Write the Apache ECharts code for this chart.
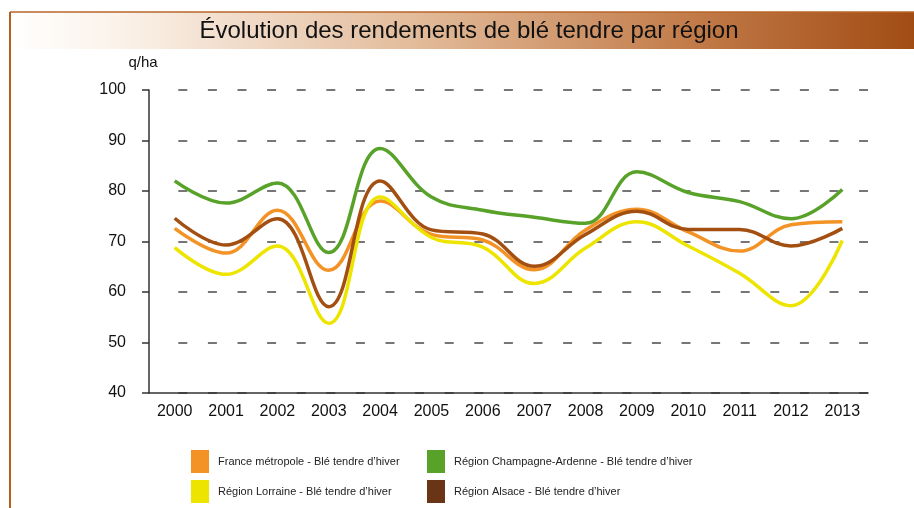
<!DOCTYPE html>
<html>
<head>
<meta charset="utf-8">
<script src="https://cdn.jsdelivr.net/npm/echarts@6/dist/echarts.min.js"></script>
<style>
  html, body { margin: 0; padding: 0; background: #fff; }
  #main { width: 914px; height: 508px; }
</style>
</head>
<body>
<div id="main"></div>
<script>
// années (axe x)
const years = ['2000', '2001', '2002', '2003', '2004', '2005', '2006', '2007', '2008', '2009', '2010', '2011', '2012', '2013']

// rendements en q/ha
const france = [72.6, 67.7, 76.2, 64.3, 78.0, 71.4, 70.3, 64.4, 72.3, 76.4, 71.9, 68.1, 73.3, 73.9]
const lorraine = [68.8, 63.5, 69.1, 53.8, 78.8, 70.8, 68.9, 61.7, 68.7, 73.9, 69.1, 63.7, 57.3, 70.2]
const champagne = [82.0, 77.6, 81.6, 67.8, 88.4, 78.8, 76.2, 74.8, 73.6, 83.8, 79.7, 77.9, 74.5, 80.3]
const alsace = [74.6, 69.3, 74.5, 57.1, 82.0, 72.3, 71.5, 65.1, 71.4, 76.0, 72.4, 72.4, 69.1, 72.6]

const names = [
  'France métropole - Blé tendre d\u2019hiver',
  'Région Lorraine - Blé tendre d\u2019hiver',
  'Région Champagne-Ardenne - Blé tendre d\u2019hiver',
  'Région Alsace - Blé tendre d\u2019hiver'
]
const lineColors = ['#f39325', '#ede500', '#58a22a', '#a44f12']
const legendColors = ['#f39325', '#ede500', '#58a22a', '#6a3416']

// tirets de la grille : premier trait décalé après l'axe
let gridDash = [0, 29.3]
for (let i = 0; i < 30; i++) gridDash.push(9, 20.6)

const font = 'Liberation Sans, Arial, sans-serif'

const myChart = echarts.init(document.getElementById('main'))

const legendBase = {
  orient: 'vertical',
  top: 450,
  height: 58,
  padding: 0,
  itemWidth: 18,
  itemHeight: 23,
  itemGap: 7,
  icon: 'rect',
  textStyle: {fontFamily: font, fontSize: 11, color: '#222', padding: [0, 0, 0, 4]}
}

var option = {
  animation: false,
  graphic: [
    {
      type: 'rect',
      shape: {x: 10, y: 12, width: 904, height: 37},
      style: {
        fill: new echarts.graphic.LinearGradient(0, 0, 1, 0, [
          {offset: 0, color: '#ffffff'},
          {offset: 0.12, color: '#fbf2ea'},
          {offset: 0.45, color: '#e2bb9a'},
          {offset: 0.75, color: '#c27c4a'},
          {offset: 1, color: '#a24c14'}
        ])
      }
    },
    {type: 'line', shape: {x1: 10, y1: 12, x2: 914, y2: 12}, style: {stroke: '#b8662a', lineWidth: 1.5}},
    {type: 'line', shape: {x1: 10, y1: 12, x2: 10, y2: 508}, style: {stroke: '#b2601f', lineWidth: 2}},
    {
      type: 'text',
      x: 469,
      y: 31,
      style: {
        text: '\u00c9volution des rendements de bl\u00e9 tendre par r\u00e9gion',
        fontFamily: font,
        fontSize: 24,
        fill: '#111',
        align: 'center',
        verticalAlign: 'middle'
      }
    }
  ],
  legend: [
    Object.assign({}, legendBase, {
      left: 191,
      data: [
        {name: names[0], itemStyle: {color: legendColors[0]}},
        {name: names[1], itemStyle: {color: legendColors[1]}}
      ]
    }),
    Object.assign({}, legendBase, {
      left: 427,
      data: [
        {name: names[2], itemStyle: {color: legendColors[2]}},
        {name: names[3], itemStyle: {color: legendColors[3]}}
      ]
    })
  ],
  grid: {left: 149, right: 46, top: 90, bottom: 115, containLabel: false},
  xAxis: {
    type: 'category',
    data: years,
    boundaryGap: true,
    axisLine: {lineStyle: {color: '#333', width: 1.5}},
    axisTick: {length: 6, lineStyle: {color: '#333', width: 1.5}},
    axisLabel: {fontFamily: font, fontSize: 16, color: '#111', margin: 11}
  },
  yAxis: {
    type: 'value',
    min: 40,
    max: 100,
    interval: 10,
    name: 'q/ha',
    nameGap: 20,
    nameTextStyle: {fontFamily: font, fontSize: 15, color: '#111', align: 'center', padding: [0, 12, 0, 0]},
    axisLine: {show: true, lineStyle: {color: '#333', width: 1.5}},
    axisTick: {show: true, length: 7, lineStyle: {color: '#333', width: 1.5}},
    axisLabel: {fontFamily: font, fontSize: 16, color: '#111', margin: 23},
    splitLine: {lineStyle: {color: '#4a4a4a', width: 1.5, type: gridDash}}
  },
  series: [france, lorraine, champagne, alsace].map((d, i) => ({
    name: names[i],
    type: 'line',
    data: d,
    smooth: 0.4,
    showSymbol: false,
    color: lineColors[i],
    lineStyle: {width: 3.5, color: lineColors[i]}
  }))
}

myChart.setOption(option)
</script>
</body>
</html>
